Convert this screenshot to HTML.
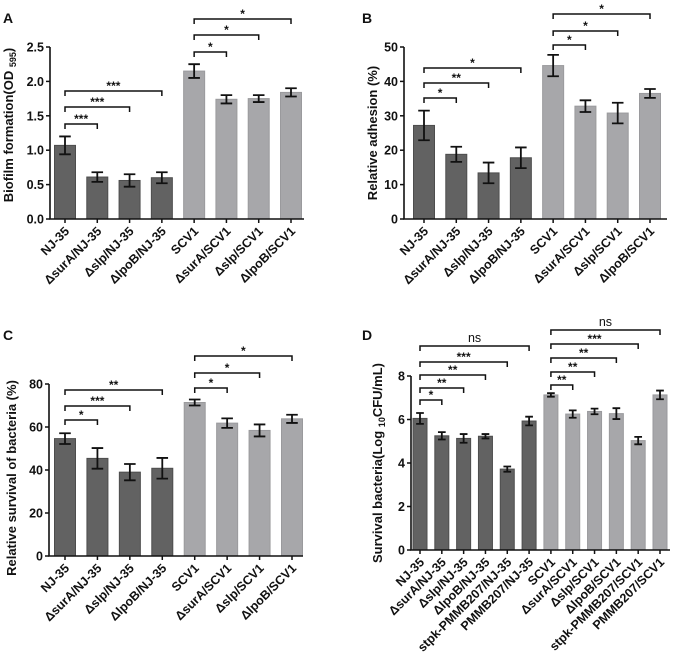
<!DOCTYPE html>
<html><head><meta charset="utf-8">
<style>
body{margin:0;background:#fff;}
svg{display:block;font-family:"Liberation Sans",Arial,sans-serif;}
.tk{font-size:12.5px;font-weight:bold;fill:#111;}
.ttl{font-size:13px;font-weight:bold;fill:#111;}
.let{font-size:14px;font-weight:bold;fill:#111;}
.st{font-size:12px;font-weight:bold;fill:#111;}
.ns{font-size:12.5px;fill:#111;}
</style></head>
<body>
<svg id="fig" width="674" height="662" viewBox="0 0 674 662"></svg>
<script>
const labels8 = ["NJ-35","ΔsurA/NJ-35","Δslp/NJ-35","ΔlpoB/NJ-35","SCV1","ΔsurA/SCV1","Δslp/SCV1","ΔlpoB/SCV1"];
const labels12 = ["NJ-35","ΔsurA/NJ-35","Δslp/NJ-35","ΔlpoB/NJ-35","stpk-PMMB207/NJ-35","PMMB207/NJ-35","SCV1","ΔsurA/SCV1","Δslp/SCV1","ΔlpoB/SCV1","stpk-PMMB207/SCV1","PMMB207/SCV1"];
const valsA = [1.07,0.61,0.56,0.60,2.15,1.74,1.75,1.84];
const errA  = [0.13,0.07,0.09,0.08,0.10,0.06,0.05,0.06];
const ticksA = ["0.0","0.5","1.0","1.5","2.0","2.5"];
const valsB = [27.2,18.8,13.4,17.8,44.6,32.8,30.8,36.5];
const errB  = [4.3,2.2,3.0,3.0,3.1,1.7,3.0,1.3];
const ticksB = ["0","10","20","30","40","50"];
const valsC = [54.6,45.4,39.0,40.8,71.4,61.8,58.4,63.8];
const errC  = [2.5,4.8,3.8,4.8,1.4,2.2,2.8,1.9];
const ticksC = ["0","20","40","60","80"];
const valsD = [6.05,5.25,5.13,5.23,3.72,5.93,7.13,6.25,6.37,6.27,5.03,7.13];
const errD  = [0.25,0.17,0.20,0.10,0.12,0.20,0.08,0.17,0.13,0.25,0.17,0.20];
const ticksD = ["0","2","4","6","8"];
const sigA = [[0,1,"***"],[0,2,"***"],[0,3,"***"],[4,5,"*"],[4,6,"*"],[4,7,"*"]];
const sigB = [[0,1,"*"],[0,2,"**"],[0,3,"*"],[4,5,"*"],[4,6,"*"],[4,7,"*"]];
const sigC = [[0,1,"*"],[0,2,"***"],[0,3,"**"],[4,5,"*"],[4,6,"*"],[4,7,"*"]];
const sigD = [[0,1,"*"],[0,2,"**"],[0,3,"**"],[0,4,"***"],[0,5,"ns"],[6,7,"**"],[6,8,"**"],[6,9,"**"],[6,10,"***"],[6,11,"ns"]];

const NS="http://www.w3.org/2000/svg";
const svg=document.getElementById('fig');
function mk(tag,attrs,parent,text){const e=document.createElementNS(NS,tag);for(const k in attrs)e.setAttribute(k,attrs[k]);if(text!==undefined)e.textContent=text;(parent||svg).appendChild(e);return e;}

function panel(cfg){
  const g=mk('g',{});
  
  
  const ymax=cfg.ymax;
  const ys=v=>cfg.y0-(v/ymax)*(cfg.y0-cfg.ytop);
  const n=cfg.vals.length;
  const xs=i=>cfg.c0+i*(cfg.c1-cfg.c0)/(n-1);
  const lt=mk('text',{x:cfg.lx,y:cfg.ly,class:'let'},g,cfg.id.toUpperCase());
  
  
  cfg.vals.forEach((v,i)=>{
    const dark=i<cfg.split;
    const r=mk('rect',{x:xs(i)-cfg.bw/2,y:ys(v),width:cfg.bw,height:cfg.y0-ys(v),fill:dark?'#626262':'#a7a7aa',stroke:dark?'#4d4d4d':'#9a9a9d','stroke-width':1},g);
    
    
    const e=cfg.errs[i],x=xs(i),cw=cfg.bw*0.55;
    const eb=mk('path',{d:`M${x},${ys(v+e)}V${ys(v-e)}M${x-cw/2},${ys(v+e)}H${x+cw/2}M${x-cw/2},${ys(v-e)}H${x+cw/2}`,stroke:'#111','stroke-width':1.8,fill:'none'},g);
    
    
  });
  const ax=mk('path',{d:`M${cfg.ax},${cfg.ytop}V${cfg.y0}H${cfg.xend}`,stroke:'#111','stroke-width':1.6,fill:'none'},g);
  
  
  cfg.ticks.forEach((t,i)=>{
    const v=i*ymax/(cfg.ticks.length-1),y=ys(v);
    mk('path',{d:`M${cfg.ax-4},${y}H${cfg.ax}`,stroke:'#111','stroke-width':1.5},g);
    const tl=mk('text',{x:cfg.ax-6,y:y+4.5,class:'tk','text-anchor':'end'},g,t);
    
    
  });
  cfg.labels.forEach((l,i)=>{
    const x=xs(i);
    mk('path',{d:`M${x},${cfg.y0}V${cfg.y0+4}`,stroke:'#111','stroke-width':1.5},g);
    const tx=mk('text',{x:x+5,y:cfg.y0+13,class:'tk','text-anchor':'end',transform:`rotate(-45 ${x+5} ${cfg.y0+13})`},g,l);
    
    
  });
  const tt=mk('text',{x:cfg.tx,y:cfg.ty,class:'ttl','text-anchor':'middle',transform:`rotate(-90 ${cfg.tx} ${cfg.ty})`},g);
  
  
  tt.innerHTML=cfg.title;
  cfg.sig.forEach((s,k)=>{
    const y=cfg.sigY[k],x1=xs(s[0]),x2=xs(s[1]);
    const b=mk('path',{d:`M${x1},${y+5}V${y}H${x2}V${y+5}`,stroke:'#111','stroke-width':1.5,fill:'none'},g);
    
    
    const isNs=s[2]==='ns';
    const st=mk('text',{x:(x1+x2)/2,y:isNs?y-4:y-1,class:isNs?'ns':'st','text-anchor':'middle'},g,s[2]);
    
    
  });
}

panel({id:'a',vals:valsA,errs:errA,labels:labels8,ticks:ticksA,ymax:2.5,split:4,
  ax:50,xend:304,y0:219,ytop:47,c0:65,c1:291,bw:21,lx:3,ly:23,tx:13,ty:125,
  title:'Biofilm formation(OD <tspan font-size="9" dy="3">595</tspan><tspan dy="-3">)</tspan>',
  sig:sigA,sigY:[124,107,91,52,35,19]});
panel({id:'b',vals:valsB,errs:errB,labels:labels8,ticks:ticksB,ymax:50,split:4,
  ax:404,xend:667,y0:219,ytop:47,c0:424,c1:650,bw:21,lx:362,ly:23,tx:377,ty:133,
  title:'Relative adhesion (%)',
  sig:sigB,sigY:[98,83,68,45,31,14]});
panel({id:'c',vals:valsC,errs:errC,labels:labels8,ticks:ticksC,ymax:80,split:4,
  ax:49,xend:303,y0:556,ytop:384,c0:65,c1:292,bw:21,lx:3,ly:340,tx:16,ty:478,
  title:'Relative survival of bacteria (%)',
  sig:sigC,sigY:[420,406,390,388,373,356]});
panel({id:'d',vals:valsD,errs:errD,labels:labels12,ticks:ticksD,ymax:8,split:6,
  ax:411,xend:670,y0:550,ytop:376,c0:420,c1:660,bw:14,lx:362,ly:340,tx:382,ty:463,
  title:'Survival bacteria(Log <tspan font-size="9" dy="3">10</tspan><tspan dy="-3">CFU/mL)</tspan>',
  sig:sigD,sigY:[400,388,375,362,346,385,372,358,344,330]});
</script>
</body></html>
